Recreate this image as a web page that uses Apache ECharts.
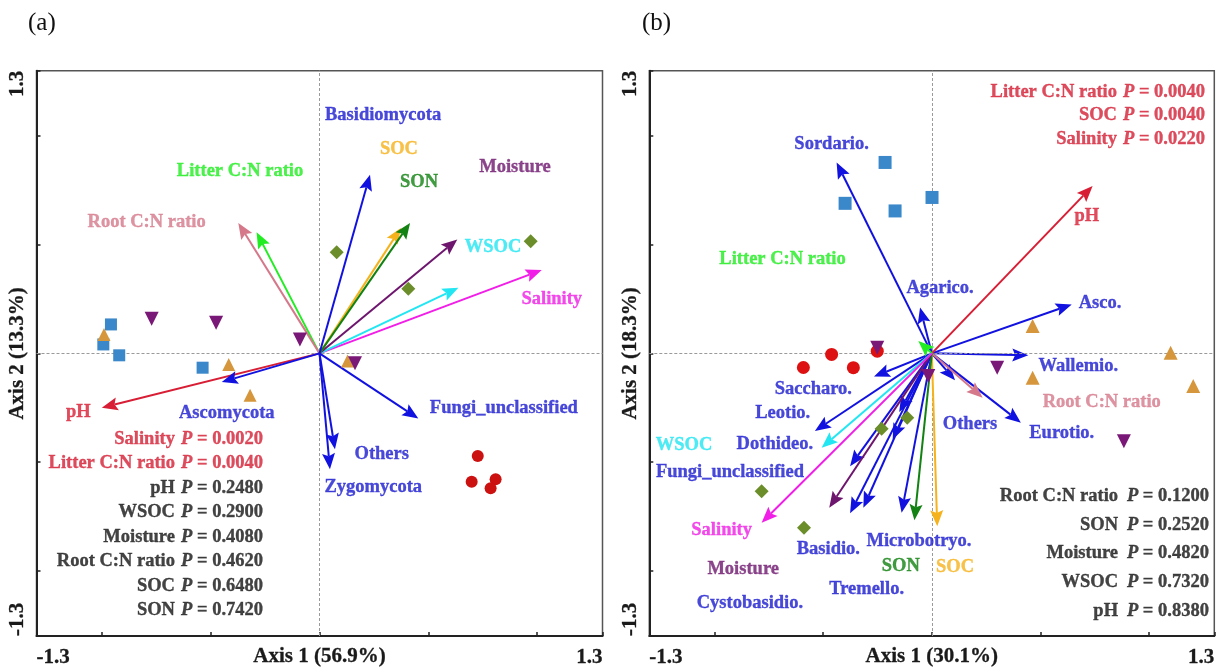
<!DOCTYPE html>
<html><head><meta charset="utf-8">
<script src="https://cdn.jsdelivr.net/npm/echarts@6/dist/echarts.min.js"></script>
<style>html,body{margin:0;padding:0;background:#fff}#c{width:1225px;height:669px}</style>
</head><body><div id="c"></div>
<script>
// ---------------- Panel (a) data ----------------
const envNamesA = ['pH','Salinity','WSOC','Moisture','Litter C:N ratio','Root C:N ratio','SOC','SON'];
const envXA = [-1.000, 1.021, 0.638, 0.633, -0.289, -0.373, 0.374, 0.416];
const envYA = [-0.250, 0.383, 0.302, 0.524, 0.557, 0.600, 0.577, 0.600];
const envLabelXA = [-1.108, 1.067, 0.797, 0.898, -0.365, -0.794, 0.365, 0.457];
const envLabelYA = [-0.272, 0.251, 0.487, 0.854, 0.837, 0.603, 0.937, 0.786];

const taxaNamesA = ['Basidiomycota','Ascomycota','Fungi_unclassified','Others','Zygomycota'];
const taxaXA = [0.232, -0.449, 0.454, 0.071, 0.048];
const taxaYA = [0.822, -0.132, -0.300, -0.441, -0.533];
const taxaLabelXA = [0.292, -0.426, 0.847, 0.286, 0.247];
const taxaLabelYA = [1.093, -0.276, -0.254, -0.464, -0.617];

const pNamesA = ['Salinity','Litter C:N ratio','pH','WSOC','Moisture','Root C:N ratio','SOC','SON'];
const pValuesA = [0.0020, 0.0040, 0.2480, 0.2900, 0.4080, 0.4620, 0.6480, 0.7420];

const squaresA = [[-0.958,0.133],[-0.993,0.041],[-0.920,-0.009],[-0.537,-0.066]];
const trianglesA = [[-0.990,0.087],[-0.417,-0.051],[-0.319,-0.193],[0.129,-0.035]];
const invTrianglesA = [[-0.771,0.159],[-0.475,0.141],[-0.090,0.064],[0.163,-0.046]];
const diamondsA = [[0.079,0.465],[0.408,0.297],[0.970,0.516]];
const circlesA = [[0.727,-0.472],[0.699,-0.591],[0.809,-0.579],[0.786,-0.620]];

// ---------------- Panel (b) data ----------------
const envNamesB = ['pH','Litter C:N ratio','Root C:N ratio','SOC','SON','Moisture','WSOC','Salinity'];
const envXB = [0.740, -0.062, 0.234, 0.025, -0.080, -0.472, -0.507, -0.783];
const envYB = [0.770, 0.057, -0.204, -0.795, -0.768, -0.710, -0.434, -0.779];
const envLabelXB = [0.713, -0.687, 0.782, 0.107, -0.143, -0.868, -1.140, -0.967];
const envLabelYB = [0.629, 0.433, -0.224, -0.983, -0.979, -0.991, -0.423, -0.813];

const taxaNamesB = ['Sordario.','Agarico.','Asco.','Wallemio.','Eurotio.','Others','Saccharo.','Leotio.','Dothideo.','Fungi_unclassified','Basidio.','Microbotryo.','Tremello.','Cystobasidio.'];
const taxaXB = [-0.438, -0.054, 0.644, 0.444, 0.410, 0.107, -0.266, -0.180, -0.538, -0.376, -0.376, -0.139, -0.315, -0.150];
const taxaYB = [0.878, 0.211, 0.225, -0.009, -0.319, -0.124, -0.107, -0.396, -0.357, -0.519, -0.736, -0.733, -0.710, -0.270];
const taxaLabelXB = [-0.461, 0.038, 0.774, 0.674, 0.598, 0.176, -0.545, -0.686, -0.722, -0.929, -0.476, -0.059, -0.300, -0.837];
const taxaLabelYB = [0.962, 0.298, 0.230, -0.058, -0.368, -0.327, -0.163, -0.276, -0.419, -0.549, -0.902, -0.864, -1.086, -1.147];

const pNamesB1 = ['Litter C:N ratio','SOC','Salinity'];
const pValuesB1 = [0.0040, 0.0040, 0.0220];
const pNamesB2 = ['Root C:N ratio','SON','Moisture','WSOC','pH'];
const pValuesB2 = [0.1200, 0.2520, 0.4820, 0.7320, 0.8380];

const squaresB = [[-0.399,0.690],[-0.215,0.878],[-0.169,0.655],[0.001,0.717]];
const trianglesB = [[0.464,0.126],[0.464,-0.112],[1.099,0.003],[1.203,-0.150]];
const invTrianglesB = [[-0.251,0.026],[-0.016,-0.104],[0.301,-0.066],[0.884,-0.404]];
const diamondsB = [[-0.113,-0.296],[-0.231,-0.347],[-0.783,-0.634],[-0.588,-0.802]];
const circlesB = [[-0.591,-0.065],[-0.461,-0.005],[-0.361,-0.066],[-0.251,0.010]];

const axisTicks = [-1.3, -1.0, -0.5, 0, 0.5, 1.0, 1.3];
const axisLabels = [-1.3, 1.3];
const axisTitlesX = ['Axis 1 (56.9%)', 'Axis 1 (30.1%)'];
const axisTitlesY = ['Axis 2 (13.3%)', 'Axis 2 (18.3%)'];
const panelTags = ['(a)', '(b)'];

// ---------------- styles ----------------
const FONT = '"Liberation Serif","Times New Roman",serif';
const envColor = {
  'pH': '#d81e34', 'Salinity': '#f01ee6', 'WSOC': '#22e6f2', 'Moisture': '#6e166e',
  'Litter C:N ratio': '#22ec22', 'Root C:N ratio': '#d4788a', 'SOC': '#f6b21c', 'SON': '#128212'
};
const TAXA = '#1212e0';
const TAXA_TXT = '#1a1ad0';
const SIG = '#d41f35';
const BLACK = '#141414';
const FS = 18.5;
const TB = 0.35; // slight text stroke to mimic the heavy print

function arrowRender(params, api) {
  const p0 = api.coord([0, 0]);
  const p1 = api.coord([api.value(0), api.value(1)]);
  const color = api.visual('color');
  const dx = p1[0] - p0[0], dy = p1[1] - p0[1];
  const len = Math.hypot(dx, dy) || 1;
  const ux = dx / len, uy = dy / len;
  const H = Math.min(16, len), W = 6.5, N = H * 0.18;
  const bx = p1[0] - ux * H, by = p1[1] - uy * H;
  const nx = p1[0] - ux * (H - N), ny = p1[1] - uy * (H - N);
  const px = -uy, py = ux;
  return {type: 'group', children: [
    {type: 'line', shape: {x1: p0[0], y1: p0[1], x2: nx, y2: ny}, style: {stroke: color, lineWidth: 2}},
    {type: 'polygon', shape: {points: [[p1[0], p1[1]], [bx + px * W, by + py * W], [nx, ny], [bx - px * W, by - py * W]]}, style: {fill: color}}
  ]};
}

function arrowSeries(gi, names, xs, ys, colorFn, z, withCross) {
  const s = {
    type: 'custom', xAxisIndex: gi, yAxisIndex: gi, renderItem: arrowRender, z: z, silent: true,
    data: names.map((n, i) => ({value: [xs[i], ys[i]], name: n, itemStyle: {color: colorFn(n)}}))
  };
  if (withCross) {
    s.markLine = {silent: true, symbol: 'none', label: {show: false},
      lineStyle: {type: [3, 2], color: '#9a9a9a', width: 1}, data: [{xAxis: 0}, {yAxis: 0}]};
  }
  return s;
}

function labelSeries(gi, names, xs, ys, colorFn, z) {
  return {
    type: 'scatter', xAxisIndex: gi, yAxisIndex: gi, symbolSize: 0, silent: true, z: z,
    data: names.map((n, i) => ({value: [xs[i], ys[i]], name: n,
      label: {color: colorFn(n), textBorderColor: colorFn(n), textBorderWidth: TB}})),
    label: {show: true, position: 'inside', formatter: '{b}', fontFamily: FONT, fontWeight: 'bold', fontSize: FS}
  };
}

function pSeries(gi, names, vals, nameX, valX, topY, step) {
  const col = v => v < 0.05 ? SIG : BLACK;
  return [
    {type: 'scatter', xAxisIndex: gi, yAxisIndex: gi, symbolSize: 0, silent: true, z: 10,
     data: names.map((n, i) => ({value: [nameX, topY - i * step], name: n,
       label: {color: col(vals[i]), textBorderColor: col(vals[i]), textBorderWidth: TB}})),
     label: {show: true, position: 'inside', align: 'right', formatter: '{b}', fontFamily: FONT, fontWeight: 'bold', fontSize: FS}},
    {type: 'scatter', xAxisIndex: gi, yAxisIndex: gi, symbolSize: 0, silent: true, z: 10,
     data: vals.map((v, i) => ({value: [valX, topY - i * step], name: v.toFixed(4),
       label: {color: col(v), textBorderColor: col(v), textBorderWidth: TB,
         rich: {i: {fontStyle: 'italic', fontWeight: 'bold', fontFamily: FONT, fontSize: FS, color: col(v),
           textBorderColor: col(v), textBorderWidth: TB}}}})),
     label: {show: true, position: 'inside', align: 'left', formatter: p => '{i|P} = ' + p.name,
       fontFamily: FONT, fontWeight: 'bold', fontSize: FS}}
  ];
}

function pointSeries(gi, pts, symbol, size, color, rotate) {
  return {type: 'scatter', xAxisIndex: gi, yAxisIndex: gi, symbol: symbol, symbolSize: size,
    symbolRotate: rotate || 0, silent: true, z: 8, data: pts, itemStyle: {color: color, opacity: 1}};
}

const axisText = {fontFamily: FONT, fontWeight: 'bold', fontSize: 21, color: '#1a1a1a', textBorderColor: '#1a1a1a', textBorderWidth: 0.3};

function mkX(gi) {
  return {gridIndex: gi, type: 'value', min: -1.3, max: 1.3,
    axisLine: {show: true, onZero: false, lineStyle: {color: '#222', width: 2}},
    axisTick: {show: true, inside: true, length: 4, customValues: axisTicks, lineStyle: {color: '#222', width: 1.5}},
    axisLabel: Object.assign({show: true, customValues: axisLabels, formatter: v => v.toFixed(1),
      margin: 11, alignMinLabel: 'left', alignMaxLabel: 'right'}, axisText),
    splitLine: {show: false},
    name: axisTitlesX[gi], nameLocation: 'middle', nameGap: 10, nameMoveOverlap: false,
    nameTextStyle: Object.assign({verticalAlign: 'top'}, axisText)};
}
function mkY(gi) {
  return {gridIndex: gi, type: 'value', min: -1.3, max: 1.3,
    axisLine: {show: true, onZero: false, lineStyle: {color: '#222', width: 2}},
    axisTick: {show: true, inside: true, length: 4, customValues: axisTicks, lineStyle: {color: '#222', width: 1.5}},
    axisLabel: Object.assign({show: true, customValues: axisLabels, formatter: v => v.toFixed(1), rotate: 90,
      margin: 8, alignMinLabel: 'left', alignMaxLabel: 'right'}, axisText),
    splitLine: {show: false},
    name: axisTitlesY[gi], nameLocation: 'middle', nameGap: 8, nameRotate: 90, nameMoveOverlap: false,
    nameTextStyle: Object.assign({}, axisText)};
}

const series = [];
// panel (a)
series.push(arrowSeries(0, envNamesA, envXA, envYA, n => envColor[n], 4, true));
series.push(arrowSeries(0, taxaNamesA, taxaXA, taxaYA, () => TAXA, 5, false));
series.push(pointSeries(0, circlesA, 'circle', 12, '#cc1111'));
series.push(pointSeries(0, squaresA, 'rect', 12, '#3a87c9'));
series.push(pointSeries(0, trianglesA, 'triangle', 13, '#d6963c'));
series.push(pointSeries(0, invTrianglesA, 'triangle', 14, '#7a1878', 180));
series.push(pointSeries(0, diamondsA, 'diamond', 14, '#6b8e2a'));
series.push(labelSeries(0, envNamesA, envLabelXA, envLabelYA, n => envColor[n], 9));
series.push(labelSeries(0, taxaNamesA, taxaLabelXA, taxaLabelYA, () => TAXA_TXT, 9));
series.push(...pSeries(0, pNamesA, pValuesA, -0.664, -0.636, -0.395, 0.1125));
// panel (b)
series.push(arrowSeries(1, taxaNamesB, taxaXB, taxaYB, () => TAXA, 4, true));
series.push(arrowSeries(1, envNamesB, envXB, envYB, n => envColor[n], 5, false));
series.push(pointSeries(1, circlesB, 'circle', 13, '#dd1111'));
series.push(pointSeries(1, squaresB, 'rect', 13, '#3a87c9'));
series.push(pointSeries(1, trianglesB, 'triangle', 14, '#d6963c'));
series.push(pointSeries(1, invTrianglesB, 'triangle', 14, '#7a1878', 180));
series.push(pointSeries(1, diamondsB, 'diamond', 14, '#6b8e2a'));
series.push(labelSeries(1, envNamesB, envLabelXB, envLabelYB, n => envColor[n], 9));
series.push(labelSeries(1, taxaNamesB, taxaLabelXB, taxaLabelYB, () => TAXA_TXT, 9));
series.push(...pSeries(1, pNamesB1, pValuesB1, 0.852, 0.880, 1.201, 0.108));
series.push(...pSeries(1, pNamesB2, pValuesB2, 0.857, 0.898, -0.657, 0.132));

const chart = echarts.init(document.getElementById('c'), null, {renderer: 'canvas'});
chart.setOption({
  animation: false,
  backgroundColor: '#fff',
  title: [
    {text: panelTags[0], left: 23, top: 6, textStyle: {fontFamily: FONT, fontWeight: 'normal', fontSize: 25, color: '#111'}},
    {text: panelTags[1], left: 637, top: 6, textStyle: {fontFamily: FONT, fontWeight: 'normal', fontSize: 25, color: '#111'}}
  ],
  grid: [
    {left: 36.5, top: 70.7, width: 566, height: 565.3, show: true, borderColor: '#555', borderWidth: 1.5, containLabel: false, outerBoundsMode: 'none'},
    {left: 649.3, top: 70.7, width: 565, height: 565.3, show: true, borderColor: '#555', borderWidth: 1.5, containLabel: false, outerBoundsMode: 'none'}
  ],
  xAxis: [mkX(0), mkX(1)],
  yAxis: [mkY(0), mkY(1)],
  series: series
});
</script></body></html>
